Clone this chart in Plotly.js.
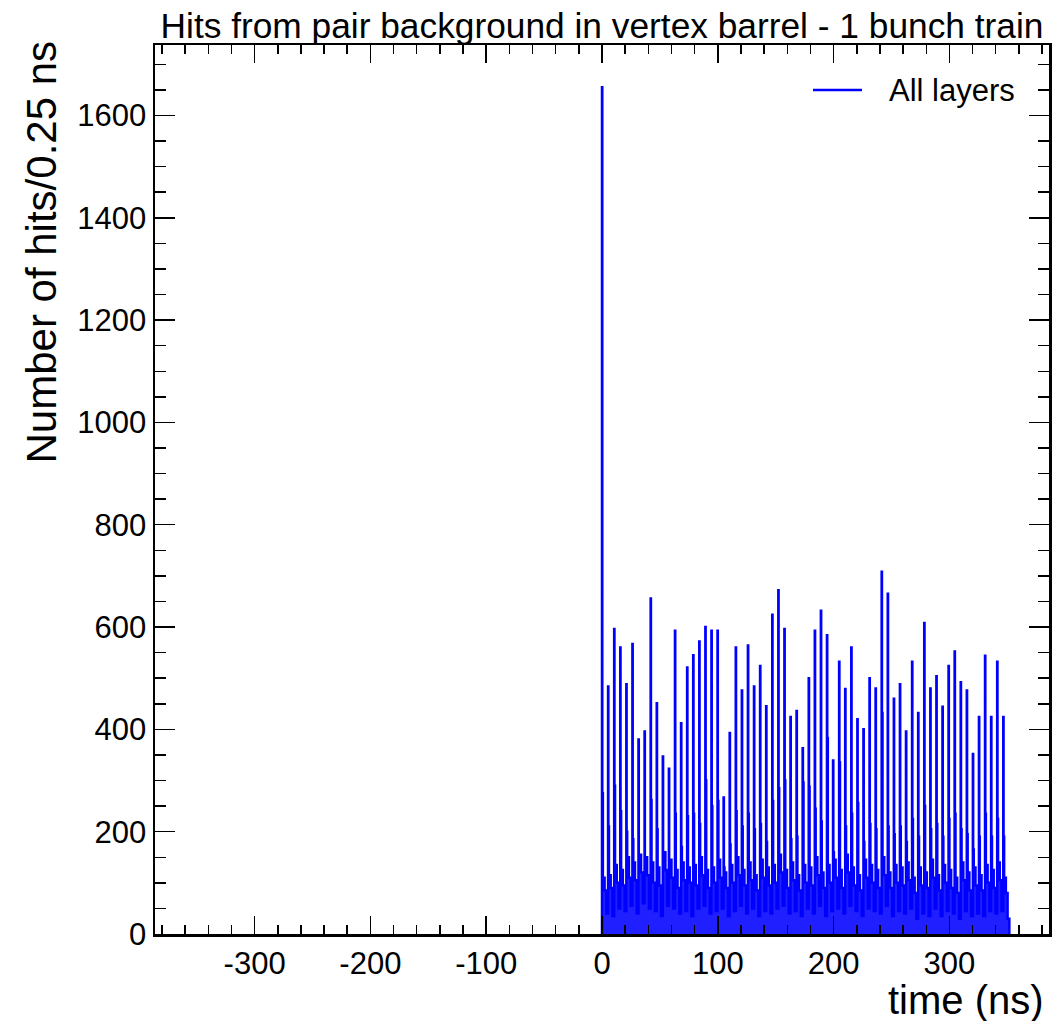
<!DOCTYPE html>
<html>
<head>
<meta charset="utf-8">
<script src="https://cdn.plot.ly/plotly-3.0.1.min.js"></script>
<style>html,body{margin:0;padding:0;background:#fff;}#chart{width:1064px;height:1021px;}</style>
</head>
<body>
<div id="chart"></div>
<script>
// Histogram: hits per 0.25 ns bin, one bunch every 21 bins (5.25 ns)
const binWidth = 0.25;
const binsPerBunch = 21;
const xRange = [-386, 386];

// Tick labels (ROOT style hyphen minus)
const xTickVals = [-300, -200, -100, 0, 100, 200, 300];
const xTickText = ['-300', '-200', '-100', '0', '100', '200', '300'];

// Peak bin of each bunch (67 bunches)
const peakHits = [1655, 484, 596, 560, 488, 567, 380, 396, 656, 451,
  347, 323, 593, 412, 521, 545, 572, 600, 593, 593,
  267, 393, 560, 476, 564, 484, 524, 445, 624, 672,
  596, 424, 436, 363, 500, 593, 632, 584, 339, 532,
  479, 560, 420, 400, 500, 480, 708, 665, 460, 488,
  396, 532, 432, 608, 480, 504, 444, 524, 552, 492,
  476, 352, 424, 544, 424, 532, 424];

// Bin right after the peak
const shoulderHits = [275, 210, 290, 240, 200, 185, 150, 140, 262, 205,
  140, 135, 235, 170, 230, 235, 215, 300, 250, 260,
  130, 175, 240, 210, 235, 205, 215, 180, 260, 285,
  300, 185, 190, 296, 288, 245, 220, 383, 160, 335,
  210, 235, 256, 180, 215, 205, 432, 210, 195, 210,
  180, 225, 190, 250, 205, 215, 190, 225, 235, 205,
  195, 165, 190, 235, 190, 225, 190];

// Low-level hits between bunches (early / middle / late part of each 5.25 ns slot)
const noiseEarly = [110, 115, 135, 125, 150, 140, 155, 150, 140, 130,
  160, 145, 125, 140, 130, 135, 150, 125, 130, 145,
  120, 135, 150, 125, 140, 115, 145, 130, 135, 155,
  125, 140, 115, 135, 130, 150, 120, 135, 145, 125,
  155, 130, 115, 145, 135, 125, 150, 120, 135, 130,
  140, 110, 130, 120, 145, 115, 135, 125, 110, 140,
  120, 130, 115, 135, 125, 140, 110];
const noiseMid = [85, 90, 100, 95, 110, 105, 120, 115, 100, 95,
  125, 110, 90, 105, 100, 95, 115, 90, 100, 110,
  90, 100, 115, 95, 105, 85, 110, 95, 100, 120,
  90, 105, 85, 100, 95, 115, 90, 100, 110, 90,
  120, 95, 85, 110, 100, 90, 115, 90, 100, 95,
  105, 80, 95, 90, 110, 85, 100, 90, 80, 105,
  85, 95, 85, 100, 90, 105, 80];
const noiseLate = [40, 35, 50, 45, 55, 40, 60, 50, 45, 35,
  55, 50, 40, 45, 35, 50, 55, 40, 45, 50,
  35, 45, 55, 40, 50, 35, 45, 40, 50, 55,
  40, 45, 35, 50, 40, 55, 35, 45, 50, 40,
  55, 45, 35, 50, 45, 40, 55, 35, 45, 40,
  50, 30, 40, 35, 50, 35, 45, 40, 30, 45,
  35, 40, 35, 45, 40, 45, 30];

// Bin offsets (within a bunch slot) at which each stored value starts
const offPeak = 0, offShoulder = 1, offEarly = 3, offMid = 9, offLate = 15;

const xs = [0], ys = [0];
for (let k = 0; k < peakHits.length; k++) {
  const b0 = k * binsPerBunch;
  xs.push((b0 + offPeak) * binWidth);     ys.push(peakHits[k]);
  xs.push((b0 + offShoulder) * binWidth); ys.push(shoulderHits[k]);
  xs.push((b0 + offEarly) * binWidth);    ys.push(noiseEarly[k]);
  xs.push((b0 + offMid) * binWidth);      ys.push(noiseMid[k]);
  xs.push((b0 + offLate) * binWidth);     ys.push(noiseLate[k]);
}
xs.push(peakHits.length * binsPerBunch * binWidth); ys.push(0);

const yMax = 1.05 * Math.max(...peakHits);
const FONT = 'Liberation Sans, Arial, Helvetica, sans-serif';
const BLUE = '#0000ff';

const trace = {
  x: xs, y: ys, type: 'scatter', mode: 'lines',
  line: {shape: 'hv', color: BLUE, width: 2.5},
  fill: 'tozeroy', fillcolor: 'rgba(0,0,255,0.88)',
  name: 'All layers', showlegend: false
};

const axisCommon = {
  showgrid: false, zeroline: false, showline: true,
  linecolor: '#000', linewidth: 2.5, mirror: 'allticks',
  ticks: 'inside', tickcolor: '#000', tickwidth: 1.5,
  tickfont: {family: FONT, size: 31, color: '#000'}
};

// plot area in pixels: x 155..1049, y 45..934
const L = 155, R = 15, T = 45, B = 87, W = 1064 - L - R, H = 1021 - T - B;
const px = v => (v - L) / W;
const py = v => (1021 - B - v) / H;

const layout = {
  width: 1064, height: 1021,
  paper_bgcolor: '#fff', plot_bgcolor: '#fff',
  margin: {l: L, r: R, t: T, b: B, pad: 0},
  title: {text: 'Hits from pair background in vertex barrel - 1 bunch train',
    font: {family: FONT, size: 35.3, color: '#000'},
    x: 0.5, xref: 'paper', xanchor: 'center', y: 0.975, yref: 'container', yanchor: 'middle'},
  xaxis: Object.assign({}, axisCommon, {
    range: xRange, tickmode: 'array', tickvals: xTickVals, ticktext: xTickText, ticklen: 18,
    minor: {tickmode: 'linear', dtick: 20, tick0: 0, ticklen: 9, ticks: 'inside', tickcolor: '#000', tickwidth: 1.5}
  }),
  yaxis: Object.assign({}, axisCommon, {
    range: [0, yMax], dtick: 200, tick0: 0, ticklen: 20,
    minor: {dtick: 50, tick0: 0, ticklen: 11, ticks: 'inside', tickcolor: '#000', tickwidth: 1.5}
  }),
  showlegend: false,
  shapes: [
    {type: 'line', xref: 'paper', yref: 'paper', x0: px(813), x1: px(862), y0: py(90), y1: py(90),
      line: {color: BLUE, width: 2.5}}
  ],
  annotations: [
    {text: 'All layers', showarrow: false, xref: 'paper', yref: 'paper',
      x: px(887), y: py(90), xanchor: 'left', yanchor: 'middle',
      font: {family: FONT, size: 31, color: '#000'}},
    {text: 'Number of hits/0.25 ns', textangle: -90, showarrow: false,
      xref: 'paper', yref: 'paper', x: px(41), y: py(39),
      xanchor: 'center', yanchor: 'top',
      font: {family: FONT, size: 42, color: '#000'}},
    {text: 'time (ns)', showarrow: false,
      xref: 'paper', yref: 'paper', x: px(1046), y: py(1000),
      xanchor: 'right', yanchor: 'middle',
      font: {family: FONT, size: 40, color: '#000'}}
  ]
};

Plotly.newPlot('chart', [trace], layout, {displayModeBar: false, staticPlot: true});
</script>
</body>
</html>
